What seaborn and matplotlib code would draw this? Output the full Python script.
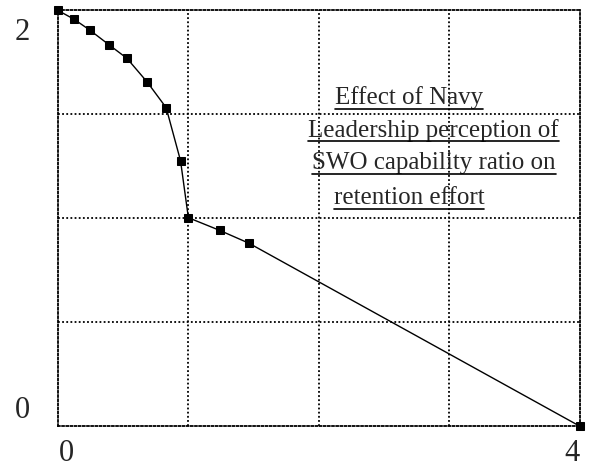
import matplotlib
matplotlib.use("Agg")
import matplotlib.pyplot as plt
import matplotlib.transforms as mtransforms
import seaborn as sns
import pandas as pd

# values
ratio = [0.0, 0.125, 0.245, 0.395, 0.53, 0.685, 0.83, 0.94, 1.0, 1.24, 1.465, 4.0]
effect = [2.0, 1.957, 1.905, 1.833, 1.769, 1.655, 1.532, 1.277, 1.003, 0.942, 0.88, 0.0]
title_lines = ["Effect of Navy", "Leadership perception of",
               "SWO capability ratio on", "retention effort"]

df = pd.DataFrame({"ratio": ratio, "effect": effect})

sns.set_style("white")
plt.rcParams["font.family"] = ["Liberation Serif", "DejaVu Serif"]

fig, ax = plt.subplots(figsize=(5.9, 4.7), dpi=100)
fig.subplots_adjust(left=0.098, right=0.983, top=0.978, bottom=0.093)

sns.lineplot(data=df, x="ratio", y="effect", ax=ax, color="black", lw=1,
             marker="s", markersize=6, markeredgecolor="black", clip_on=False)

ax.set_xlim(0, 4)
ax.set_ylim(0, 2)
ax.set_xticks([0, 4])
ax.set_yticks([0, 2])
ax.tick_params(length=0, labelsize=22)
ax.tick_params(axis="x", pad=9)
ax.tick_params(axis="y", pad=20)
ax.set_xlabel("")
ax.set_ylabel("")

# the reference's labels sit a bit inward from the corners
def nudge(lbl, dx, dy):
    off = mtransforms.ScaledTranslation(dx / 100, dy / 100, fig.dpi_scale_trans)
    lbl.set_transform(lbl.get_transform() + off)

xl = ax.get_xticklabels()
nudge(xl[0], 9, 0)
nudge(xl[1], -8, 0)
yl = ax.get_yticklabels()
nudge(yl[0], 0, 19)
nudge(yl[1], 0, -19)

# dotted grid, frame included
for v in [1, 2, 3]:
    ax.axvline(v, color="black", ls=(0, (1, 1.3)), lw=1.3, zorder=0)
for v in [0.5, 1.0, 1.5]:
    ax.axhline(v, color="black", ls=(0, (1, 1.3)), lw=1.3, zorder=0)
for s in ax.spines.values():
    s.set_linestyle((0, (1, 1.3)))
    s.set_linewidth(1.3)
    s.set_color("black")

# underlined annotation block
fig.canvas.draw()
renderer = fig.canvas.get_renderer()
line_x = [2.69, 2.88, 2.88, 2.69]
line_y = [1.548, 1.392, 1.235, 1.067]
for line, x, y in zip(title_lines, line_x, line_y):
    t = ax.text(x, y, line, ha="center", va="baseline", fontsize=18, zorder=3)
    bb = t.get_window_extent(renderer).transformed(ax.transData.inverted())
    yu = y - 0.02
    ax.plot([bb.x0, bb.x1], [yu, yu], color="black", lw=1.2, clip_on=False, zorder=3)

fig.savefig("out.png", dpi=100)
